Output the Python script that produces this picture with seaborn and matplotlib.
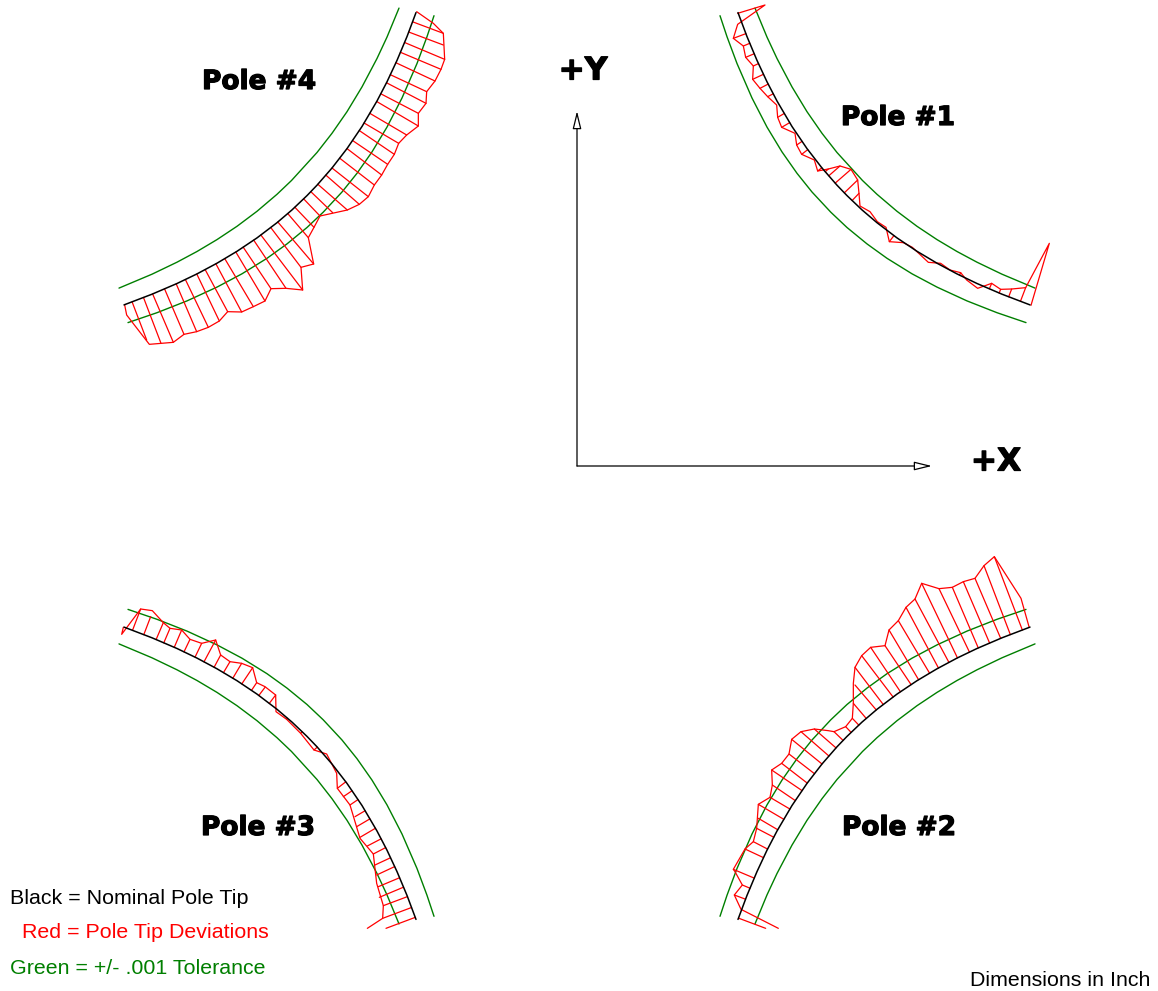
import matplotlib
matplotlib.use('Agg')
import matplotlib.pyplot as plt
import matplotlib.patheffects as pe
import numpy as np
import pandas as pd
import seaborn as sns

RED = '#ff0000'
GREEN = '#007f00'

# crossing of the +X and +Y arrows, the four pole tips sit around it
axis_x = 577
axis_y = 466

# pole tip curves, read as distance from the two arrows (same for each pole)
nominal_dx = [161, 170, 180, 190, 200, 215, 230, 245, 260, 270, 285, 300, 320, 340, 360, 380, 400, 425, 453]
nominal_dy = [453.4, 429.4, 405.6, 384.2, 365, 339.5, 317.4, 298, 280.8, 270.4, 256.1, 243.3, 228.1, 214.7,
              202.8, 192.1, 182.5, 171.8, 161.1]
far_dx = [178, 190, 200, 215, 230, 245, 260, 285.5, 300, 320, 340, 360, 380, 400, 425, 458]
far_dy = [457.9, 428.9, 407.5, 379.1, 354.3, 332.7, 313.5, 285.5, 271.7, 254.7, 239.7, 226.4, 214.5, 203.8,
          191.8, 177.9]
near_dx = [143, 150, 160, 175, 190, 205, 220, 235, 253.8, 270, 290, 310, 335, 360, 390, 420, 449]
near_dy = [450.3, 429.3, 402.5, 368, 338.9, 314.1, 292.7, 274, 253.8, 238.5, 222.1, 207.7, 192.2, 178.9, 165.1,
           153.3, 143.4]

pole4_origin = (110, 0)
pole4_dev = [(44, 915), (50, 945), (118, 1033), (190, 1027), (222, 1003), (260, 995), (295, 982), (328, 963),
             (353, 935), (395, 936), (430, 920), (465, 903), (483, 866), (528, 865), (578, 870), (573, 802),
             (611, 792), (595, 713), (612, 682), (630, 648), (712, 630), (748, 613), (775, 590), (793, 555),
             (815, 525), (833, 493), (853, 463), (866, 430), (890, 405), (925, 378), (925, 340), (948, 310),
             (950, 275), (975, 243), (993, 208), (1004, 178), (1000, 100), (970, 70), (920, 35)]
pole4_hatch = [(110, 1020), (153, 1030), (190, 1027), (222, 1003), (260, 995), (295, 982), (328, 963), (353, 935),
               (395, 936), (430, 920), (465, 903), (483, 866), (528, 865), (578, 870), (573, 802), (611, 792),
               (595, 713), (612, 682), (630, 648), (668, 638), (712, 630), (748, 613), (775, 590), (793, 555),
               (815, 525), (833, 493), (853, 463), (866, 430), (890, 405), (925, 378), (925, 340), (948, 310),
               (950, 275), (975, 243), (993, 208), (1004, 178), (1000, 135), (1000, 100)]

pole1_origin = (715, 0)
pole1_dev = [(68, 40), (150, 15), (68, 73), (55, 115), (85, 138), (92, 172), (115, 198), (113, 238), (135, 265),
             (158, 290), (185, 315), (188, 352), (200, 382), (240, 400), (245, 435), (260, 463), (298, 480),
             (308, 513), (340, 507), (375, 498), (408, 508), (428, 540), (432, 580), (435, 618), (465, 635),
             (487, 665), (513, 682), (523, 725), (565, 728), (592, 742), (640, 787), (677, 790), (705, 810),
             (737, 818), (755, 840), (788, 865), (830, 850), (857, 868), (890, 867), (932, 863), (1003, 730),
             (948, 916)]
pole1_hatch = [(55, 115), (85, 138), (92, 172), (115, 198), (113, 238), (135, 265), (158, 290), (188, 352),
               (200, 382), (245, 435), (260, 463), (308, 513), (340, 507), (375, 498), (408, 508), (428, 540),
               (432, 580), (523, 725), (737, 818), (830, 850), (857, 868), (890, 867), (932, 863)]

pole3_origin = (110, 600)
pole3_dev = [(40, 82), (35, 103), (92, 27), (127, 32), (160, 68), (180, 85), (215, 90), (240, 118), (275, 130),
             (317, 120), (332, 165), (360, 185), (395, 190), (428, 203), (440, 248), (465, 260), (497, 285),
             (498, 335), (530, 358), (572, 400), (612, 450), (650, 462), (680, 520), (682, 565), (720, 615),
             (750, 715), (790, 762), (800, 850), (820, 917), (818, 955), (772, 985)]
pole3_hatch = [(92, 27), (122, 50), (160, 68), (180, 85), (215, 90), (240, 118), (275, 130), (317, 120), (332, 165),
               (360, 185), (395, 190), (428, 203), (440, 248), (465, 262), (497, 285), (530, 358), (572, 400),
               (612, 450), (682, 565), (700, 590), (720, 615), (735, 650), (740, 680), (750, 712), (772, 738),
               (790, 762), (795, 795), (800, 825), (805, 860), (808, 892), (820, 917), (818, 955), (828, 985)]

pole2_origin = (715, 550)
pole2_dev = [(190, 1135), (78, 1078), (58, 1035), (82, 1005), (60, 965), (55, 958), (90, 897), (115, 875),
             (125, 835), (130, 763), (165, 742), (172, 705), (170, 660), (200, 640), (222, 612), (230, 568),
             (258, 545), (298, 537), (340, 542), (357, 545), (392, 530), (412, 505), (415, 460), (415, 400),
             (420, 352), (440, 317), (467, 292), (510, 287), (522, 240), (550, 212), (573, 172), (600, 147),
             (620, 100), (672, 116), (712, 112), (745, 95), (780, 85), (807, 47), (838, 20), (918, 145),
             (942, 230)]
pole2_hatch = [(152, 1135), (58, 1035), (82, 1005), (55, 958), (90, 897), (115, 875), (125, 835), (130, 805),
               (130, 763), (165, 742), (172, 705), (170, 660), (200, 640), (222, 612), (230, 568), (258, 545),
               (298, 537), (357, 545), (392, 530), (412, 505), (415, 460), (420, 405), (420, 352), (440, 317),
               (467, 292), (510, 287), (522, 240), (550, 212), (573, 172), (600, 147), (620, 100), (672, 116),
               (712, 112), (745, 95), (780, 85), (807, 47), (838, 20)]

pole_labels = ['Pole #4', 'Pole #1', 'Pole #3', 'Pole #2']
label_x = [259, 898, 258, 899]
label_y = [82, 118, 828, 828]

legend_text = ['Black = Nominal Pole Tip', 'Red = Pole Tip Deviations', 'Green = +/- .001 Tolerance']
legend_x = [10, 22, 10]
legend_y = [898, 933, 969]
legend_color = ['black', RED, GREEN]


def crop_to_frame(pts, origin):
    df = pd.DataFrame(pts, columns=['x', 'y'])
    df['x'] = df['x'] / 3 + origin[0]
    df['y'] = df['y'] / 3 + origin[1]
    return df


def curve_to_frame(dx, dy, sign_x, sign_y):
    return pd.DataFrame({'x': axis_x + sign_x * np.array(dx), 'y': axis_y + sign_y * np.array(dy)})


def nearest_on_curve(px, py, curve):
    # foot of the deviation stroke on the black curve
    xs, ys = curve['x'].values, curve['y'].values
    best, best_d = None, None
    for i in range(len(xs) - 1):
        ax_, ay_ = xs[i], ys[i]
        bx, by = xs[i + 1] - ax_, ys[i + 1] - ay_
        t = np.clip(((px - ax_) * bx + (py - ay_) * by) / (bx * bx + by * by), 0, 1)
        fx, fy = ax_ + t * bx, ay_ + t * by
        d = (px - fx) ** 2 + (py - fy) ** 2
        if best_d is None or d < best_d:
            best, best_d = (fx, fy), d
    return best


def trace(df, ax, color, lw):
    sns.lineplot(data=df, x='x', y='y', sort=False, estimator=None, errorbar=None,
                 color=color, linewidth=lw, ax=ax, legend=False)


def draw_pole(ax, sign_x, sign_y, origin, dev, hatch):
    nominal = curve_to_frame(nominal_dx, nominal_dy, sign_x, sign_y)
    trace(curve_to_frame(far_dx, far_dy, sign_x, sign_y), ax, GREEN, 1.0)
    trace(curve_to_frame(near_dx, near_dy, sign_x, sign_y), ax, GREEN, 1.0)
    # one row pair per hatch stroke, units keeps them apart
    rows = []
    ends = crop_to_frame(hatch, origin)
    for i, (x, y) in enumerate(zip(ends['x'], ends['y'])):
        fx, fy = nearest_on_curve(x, y, nominal)
        rows.append({'x': x, 'y': y, 'stroke': i})
        rows.append({'x': fx, 'y': fy, 'stroke': i})
    sns.lineplot(data=pd.DataFrame(rows), x='x', y='y', units='stroke', sort=False, estimator=None,
                 errorbar=None, color=RED, linewidth=0.9, ax=ax, legend=False)
    trace(crop_to_frame(dev, origin), ax, RED, 0.9)
    trace(nominal, ax, 'black', 1.1)


sns.set_theme(style='white')
plt.rcParams['font.family'] = ['Liberation Sans', 'DejaVu Sans']

fig = plt.figure(figsize=(11.58, 9.91), dpi=100)
ax = fig.add_axes([0, 0, 1, 1])

draw_pole(ax, -1, -1, pole4_origin, pole4_dev, pole4_hatch)
draw_pole(ax, 1, -1, pole1_origin, pole1_dev, pole1_hatch)
draw_pole(ax, -1, 1, pole3_origin, pole3_dev, pole3_hatch)
draw_pole(ax, 1, 1, pole2_origin, pole2_dev, pole2_hatch)

ax.set_xlim(0, 1158)
ax.set_ylim(991, 0)
ax.axis('off')

# the two direction arrows
arrow = dict(arrowstyle='-|>,head_length=0.9,head_width=0.22', color='black', fc='white', lw=0.9,
             shrinkA=0, shrinkB=0)
ax.annotate('', xy=(axis_x, 111), xytext=(axis_x, axis_y), arrowprops=arrow)
ax.annotate('', xy=(932, axis_y), xytext=(axis_x, axis_y), arrowprops=arrow)

heavy = [pe.withStroke(linewidth=0.9, foreground='black')]
for t, x, y in zip(pole_labels, label_x, label_y):
    ax.text(x, y, t, ha='center', va='center', fontsize=19, fontweight='bold', family='DejaVu Sans',
            color='black', path_effects=heavy)
ax.text(583, 71, '+Y', ha='center', va='center', fontsize=22.5, fontweight='bold', family='DejaVu Sans',
        color='black', path_effects=heavy)
ax.text(996, 462, '+X', ha='center', va='center', fontsize=22.5, fontweight='bold', family='DejaVu Sans',
        color='black', path_effects=heavy)

for t, x, y, c in zip(legend_text, legend_x, legend_y, legend_color):
    ax.text(x, y, t, ha='left', va='center', fontsize=15.4, color=c)
ax.text(1150, 980, 'Dimensions in Inch', ha='right', va='center', fontsize=15.4, color='black')

plt.savefig('out.png', dpi=100)
